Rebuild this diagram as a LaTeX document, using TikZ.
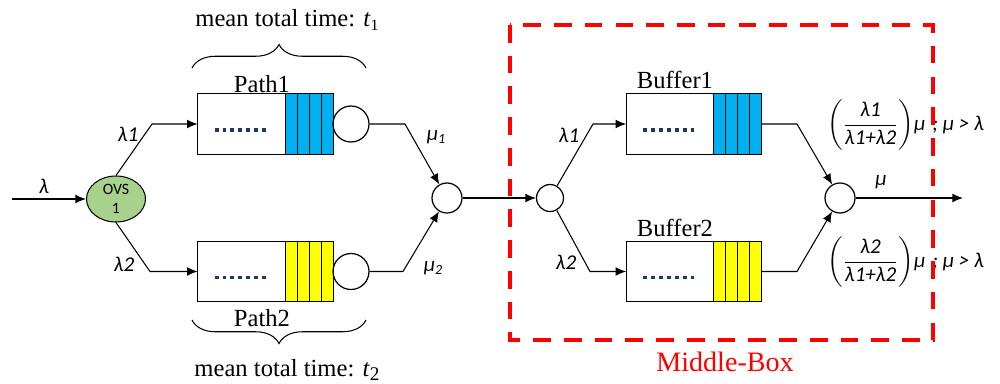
\documentclass[tikz,border=0pt]{standalone}
\usepackage{amsmath}
\usepackage{fontspec}
\setmainfont{Liberation Serif}
\newfontfamily\calfont{Carlito}
\usetikzlibrary{arrows.meta,decorations.pathreplacing,shapes.geometric}
\definecolor{qblue}{HTML}{00B0F0}
\definecolor{qyellow}{HTML}{FFFF00}
\definecolor{ovsgreen}{HTML}{A9D18E}
\definecolor{dotcol}{HTML}{1F3864}
\tikzset{
  qb/.style={draw=none,rectangle,minimum width=2.7cm,minimum height=1.19cm,inner sep=0pt},
  srv/.style={draw,circle,minimum size=0.72cm,inner sep=0pt,line width=0.7pt},
  mrg/.style={draw,circle,minimum size=0.6cm,inner sep=0pt,line width=0.7pt},
  arr/.style={-{Latex[length=6pt,width=5pt]},line width=0.6pt},
  ln/.style={line width=0.6pt},
  glab/.style={font=\calfont\itshape\fontsize{12}{14}\selectfont,inner sep=0pt},
  slab/.style={font=\fontsize{14}{16}\selectfont,inner sep=0pt},
  dotline/.style={draw=dotcol,line width=2.2pt,dash pattern=on 2.2pt off 2.3pt},
  bracestyle/.style={decorate,decoration={brace,amplitude=0.47cm,raise=0pt},line width=0.6pt},
  mbox/.style={draw=red,line width=2.3pt,dash pattern=on 10pt off 7.5pt},
}
\newcommand{\qbox}[4]{%
  \node[qb] (#1) at (#2,#3) {};
  \fill[#4] ([xshift=-0.96cm]#1.north east) rectangle (#1.south east);
  \foreach \k in {0,1,2,3} \draw[ln] ([xshift=-0.96cm+\k*0.24cm]#1.north east) -- ([xshift=-0.96cm+\k*0.24cm]#1.south east);
  \draw[dotline] ([xshift=0.34cm,yshift=-0.12cm]#1.west) -- ++(1.04cm,0);
  \draw[ln] (#1.north west) rectangle (#1.south east);
}
\begin{document}
\begin{tikzpicture}[x=0.02cm,y=-0.02cm]
\useasboundingbox (0,0) rectangle (1000,383);
% left part
\node[draw,ellipse,fill=ovsgreen,minimum width=1.18cm,minimum height=0.92cm,inner sep=0pt,line width=0.6pt,
      font=\calfont\fontsize{9}{11}\selectfont,align=center] (ovs) at (116,199) {OVS\\1};
\coordinate (in) at (12,199);
\draw[arr] (in) -- (ovs.west);
\node[glab] (lam) at (44,186) {λ};

\qbox{p1}{265.5}{124}{qblue}
\qbox{p2}{265.5}{271.5}{qyellow}
\node[srv] (s1) at (351,124) {};
\node[srv] (s2) at (351,271.5) {};
\node[slab] (p1lab) at (262,84) {Path1};
\node[slab] (p2lab) at (262,318) {Path2};

\coordinate (a1) at (152,124);
\coordinate (a2) at (150,271.5);
\draw[arr] (ovs.north) -- (a1) -- (p1.west);
\draw[arr] (ovs.south) -- (a2) -- (p2.west);
\node[glab] (l1) at (128,134) {λ1};
\node[glab] (l2) at (124,264) {λ2};

\node[mrg] (m1) at (447,198) {};
\coordinate (b1) at (405,124);
\coordinate (b2) at (403,271.5);
\draw[arr] (s1.east) -- (b1) -- (m1);
\draw[arr] (s2.east) -- (b2) -- (m1);
\node[glab] (mu1) at (436,137) {μ\raisebox{-0.35ex}{\fontsize{8}{9}\selectfont 1}};
\node[glab] (mu2) at (433,268) {μ\raisebox{-0.35ex}{\fontsize{8}{9}\selectfont 2}};

% braces
\coordinate (br1a) at (192,68);
\coordinate (br1b) at (366,68);
\draw[bracestyle] (br1a) -- (br1b);
\node[slab] (t1) at (287,20) {mean total time: \textit{t}\raisebox{-0.3ex}{\fontsize{9}{10}\selectfont 1}};
\coordinate (br2a) at (366,320);
\coordinate (br2b) at (192,320);
\draw[bracestyle] (br2a) -- (br2b);
\node[slab] (t2) at (287,370) {mean total time: \textit{t}\raisebox{-0.4ex}{\fontsize{11}{12}\selectfont 2}};

% middle box
\node[mrg,minimum size=0.54cm] (sp) at (550,198) {};
\draw[arr] (m1) -- (sp);
\qbox{q1}{694}{124}{qblue}
\qbox{q2}{694}{271.5}{qyellow}
\node[slab] (q1lab) at (675,80) {Buffer1};
\node[slab] (q2lab) at (675,228) {Buffer2};
\coordinate (c1) at (593,124);
\coordinate (c2) at (590,271.5);
\draw[arr] (sp) -- (c1) -- (q1.west);
\draw[arr] (sp) -- (c2) -- (q2.west);
\node[glab] (k1) at (569,135) {λ1};
\node[glab] (k2) at (566,262) {λ2};

\node[mrg] (mg) at (840,198) {};
\coordinate (d1) at (797,124);
\coordinate (d2) at (797,271.5);
\draw[arr] (q1.east) -- (d1) -- (mg);
\draw[arr] (q2.east) -- (d2) -- (mg);
\coordinate (out) at (963,198);
\draw[arr] (mg) -- (out);
\node[glab] (muo) at (881,182) {μ};

\node[glab,anchor=west] (f1) at (827,125) {$\left(\dfrac{\text{\calfont\itshape λ1}}{\text{\calfont\itshape λ1+λ2}}\right)$μ\,\,; μ > λ};
\node[glab,anchor=west] (f2) at (827,262) {$\left(\dfrac{\text{\calfont\itshape λ2}}{\text{\calfont\itshape λ1+λ2}}\right)$μ\,\,; μ > λ};

\draw[mbox] (510,25) rectangle (933,340);
\node[slab,text=red,font=\fontsize{16}{18}\selectfont] (mb) at (725,362) {Middle-Box};
\end{tikzpicture}
\end{document}
